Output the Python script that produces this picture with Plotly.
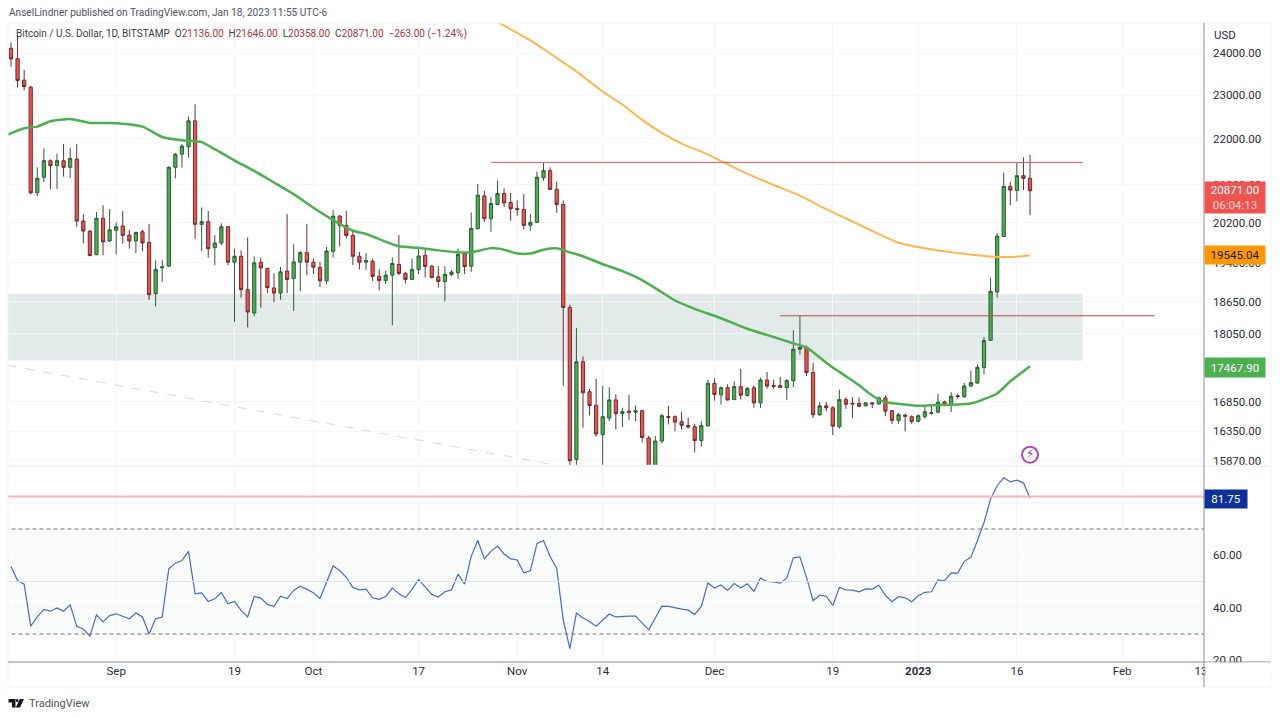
"""
BTC/USD daily (Bitstamp) with two moving averages and RSI pane, TradingView look.
"""
import numpy as np
import pandas as pd
import plotly.graph_objects as go

first_day = pd.Timestamp("2022-08-16")

opens = [24117, 23864, 23350, 23184, 20830, 21159, 21517, 21409, 21517, 21374,
         21553, 20240, 20035, 19562, 20295, 19834, 20054, 20137, 19953, 19834,
         20021, 19804, 18802, 19301, 19334, 21374, 21661, 21822, 22405, 20172,
         20226, 19701, 19795, 20123, 19412, 19529, 18880, 18437, 19412, 19290,
         18912, 18814, 19237, 19095, 19412, 19601, 19412, 19309, 19048, 19627,
         20342, 20152, 19947, 19529, 19412, 19432, 19134, 19056, 19159, 19367,
         19192, 19075, 19270, 19549, 19334, 19127, 19036, 19170, 19204, 19582,
         19334, 20082, 20763, 20287, 20582, 20814, 20623, 20500, 20480, 20152,
         20213, 21150, 21301, 20901, 20582, 18542, 15892, 17548, 17021, 16790,
         16295, 16572, 16880, 16646, 16689, 16672, 16696, 16240, 15760, 16190,
         16600, 16595, 16512, 16450, 16428, 16199, 16440, 17167, 16968, 17091,
         16886, 17109, 16956, 17091, 16830, 17225, 17132, 17126, 17091, 17214,
         17771, 17797, 17355, 16629, 16779, 16746, 16428, 16886, 16823, 16818,
         16779, 16830, 16813, 16915, 16696, 16534, 16622, 16595, 16517, 16600,
         16651, 16672, 16846, 16801, 16950, 16938, 17119, 17172, 17443, 17932,
         18834, 19927, 20965, 20878, 21193, 21136]
highs = [24265, 24446, 23595, 23215, 21374, 21786, 21547, 21676, 21883, 21799,
         21883, 20377, 20050, 20424, 20568, 20486, 20213, 20445, 20060, 20020,
         20060, 20178, 19451, 19451, 21390, 21689, 21883, 22502, 22783, 20521,
         20445, 19953, 20193, 20130, 19681, 19646, 19906, 19529, 19504, 19301,
         19192, 19321, 20383, 19769, 19632, 20178, 19484, 19418, 19714, 20465,
         20362, 20451, 20060, 19613, 19593, 19484, 19270, 19243, 19504, 19953,
         19223, 19484, 19681, 19681, 19354, 19334, 19334, 19256, 19681, 19593,
         20418, 21015, 20870, 20741, 21086, 20922, 20827, 20670, 20799, 20383,
         21280, 21473, 21374, 21064, 20670, 18592, 18160, 17642, 17067, 17242,
         17126, 17097, 16979, 16746, 16967, 16784, 16712, 16278, 16273, 16646,
         16779, 16617, 16679, 16579, 16478, 16522, 17232, 17255, 17114, 17149,
         17202, 17418, 17102, 17126, 17267, 17366, 17232, 17278, 17237, 18116,
         18382, 17840, 17531, 16846, 16846, 16773, 17056, 16926, 16926, 16921,
         16840, 16840, 16938, 16956, 16712, 16662, 16646, 16617, 16634, 16784,
         16784, 16986, 16868, 17014, 16986, 17172, 17390, 17501, 17993, 19114,
         19988, 21258, 21064, 21489, 21590, 21646]
lows = [23674, 23174, 23112, 20793, 20763, 21051, 20907, 20907, 21172, 21144,
        20123, 19783, 19529, 19549, 19549, 19816, 19568, 19783, 19681, 19593,
        19632, 18686, 18561, 19028, 19320, 21137, 21366, 21581, 19878, 19632,
        19504, 19354, 19748, 19354, 18271, 18725, 18167, 18376, 18537, 18814,
        18641, 18686, 18814, 18474, 18853, 19159, 19179, 18931, 18984, 19504,
        19728, 19886, 19354, 19270, 19256, 19048, 18867, 18984, 18210, 19159,
        18997, 19062, 19179, 19115, 19095, 18919, 18654, 19139, 19081, 19179,
        19223, 20070, 20219, 20021, 20568, 20534, 20246, 20348, 20070, 20042,
        20205, 21086, 20885, 20410, 17126, 15600, 15700, 16412, 16617, 16262,
        15780, 16522, 16378, 16422, 16545, 16522, 16167, 15476, 15620, 16154,
        16467, 16350, 16378, 16395, 16005, 16099, 16433, 16868, 16801, 16868,
        16880, 16886, 16938, 16746, 16746, 17074, 17074, 17084, 16880, 17102,
        17677, 17295, 16572, 16605, 16689, 16290, 16395, 16729, 16572, 16756,
        16768, 16740, 16801, 16605, 16472, 16478, 16350, 16478, 16500, 16562,
        16629, 16655, 16768, 16672, 16903, 16915, 17110, 17162, 17325, 17925,
        18725, 19914, 20568, 20650, 20885, 20358]
closes = [23857, 23341, 23198, 20827, 21137, 21517, 21409, 21517, 21374, 21568,
          20240, 20035, 19543, 20295, 19816, 20060, 20123, 19947, 19834, 20008,
          19795, 18783, 19270, 19321, 21374, 21661, 21838, 22405, 20172, 20226,
          19681, 19795, 20123, 19412, 19529, 18880, 18456, 19399, 19301, 18919,
          18814, 19223, 19075, 19418, 19601, 19412, 19315, 19048, 19632, 20342,
          20152, 19947, 19529, 19412, 19445, 19134, 19056, 19159, 19387, 19192,
          19075, 19270, 19535, 19328, 19115, 19036, 19173, 19217, 19568, 19328,
          20090, 20778, 20287, 20602, 20814, 20615, 20492, 20480, 20152, 20213,
          21159, 21301, 20901, 20582, 18542, 15871, 17548, 17003, 16784, 16307,
          16595, 16880, 16646, 16679, 16672, 16696, 16250, 15760, 16190, 16612,
          16584, 16505, 16450, 16422, 16199, 16445, 17167, 16973, 17091, 16880,
          17109, 16961, 17079, 16830, 17225, 17119, 17114, 17097, 17214, 17771,
          17803, 17355, 16629, 16779, 16746, 16438, 16886, 16806, 16813, 16773,
          16830, 16813, 16915, 16689, 16534, 16629, 16605, 16517, 16612, 16679,
          16662, 16840, 16806, 16943, 16938, 17119, 17179, 17448, 17926, 18847,
          19933, 20965, 20885, 21193, 21136, 20871]

rsi_values = [55.7, 50.4, 49.0, 33.0, 36.5, 39.4, 38.7, 39.9, 38.7, 41.1,
              32.9, 31.9, 29.2, 37.3, 34.6, 37.0, 37.7, 36.7, 35.8, 38.0,
              36.5, 30.0, 35.8, 36.5, 54.8, 57.0, 58.0, 61.5, 45.3, 45.7,
              42.4, 43.4, 45.8, 41.5, 42.4, 39.0, 36.5, 44.3, 43.7, 41.3,
              40.5, 44.4, 43.5, 46.6, 48.2, 47.0, 45.7, 43.5, 49.7, 55.9,
              54.2, 51.6, 47.7, 46.8, 47.1, 43.8, 43.2, 44.3, 47.6, 45.3,
              43.9, 47.0, 50.8, 47.8, 45.1, 44.1, 46.1, 46.8, 52.8, 49.0,
              59.6, 65.7, 58.6, 61.5, 63.5, 60.5, 58.6, 58.2, 53.3, 54.1,
              64.4, 65.6, 59.5, 55.1, 35.4, 24.4, 38.0, 36.1, 34.8, 33.0,
              35.2, 37.6, 36.5, 36.7, 36.8, 36.8, 34.2, 31.6, 36.1, 40.6,
              40.5, 39.9, 39.5, 39.1, 37.5, 40.5, 49.4, 47.5, 48.7, 46.6,
              49.2, 47.6, 49.1, 46.2, 51.3, 50.0, 49.9, 49.4, 51.4, 59.0,
              59.4, 51.6, 42.7, 44.8, 44.4, 40.9, 47.7, 46.8, 46.7, 46.1,
              47.2, 47.1, 48.6, 44.7, 42.3, 44.2, 43.8, 42.3, 44.6, 45.9,
              46.1, 50.6, 50.3, 53.3, 53.2, 57.7, 59.2, 65.6, 72.5, 81.4,
              86.5, 89.5, 88.0, 88.6, 87.6, 81.75]

# moving averages, read at a subset of days (offset from first candle)
fast_days = [-1, 2, 4, 6, 9, 12, 16, 20, 23, 26, 29, 31, 34, 37, 40, 43, 46, 49, 52,
             54, 56, 59, 62, 65, 68, 70, 73, 75, 77, 79, 81, 83, 85, 87, 90, 93, 96,
             99, 101, 104, 108, 112, 116, 119, 121, 123, 125, 127, 129, 131, 133,
             135, 138, 141, 144, 146, 148, 150, 152, 154, 155]
fast_ma = [22065, 22239, 22275, 22398, 22450, 22359, 22353, 22275, 22042, 21967,
           21928, 21770, 21521, 21295, 21047, 20799, 20516, 20260, 20041, 19974,
           19872, 19728, 19697, 19646, 19607, 19607, 19691, 19660, 19582, 19582,
           19660, 19687, 19607, 19529, 19373, 19237, 19062, 18828, 18672, 18515,
           18339, 18145, 17993, 17877, 17803, 17624, 17443, 17290, 17132, 16956,
           16840, 16813, 16779, 16793, 16801, 16818, 16893, 16990, 17202, 17378,
           17467.9]
slow_days = [72, 74, 79, 83, 86, 90, 93, 96, 99, 102, 105, 108, 112, 116, 120, 124,
             128, 132, 135, 139, 143, 147, 150, 152, 155]
slow_ma = [24960, 24770, 24310, 23881, 23560, 23079, 22779, 22427, 22132, 21894,
           21715, 21510, 21230, 20993, 20767, 20486, 20230, 19974, 19800, 19687,
           19607, 19549, 19516, 19516, 19545.04]

price_ticks = [24000, 23000, 22000, 21000, 20200, 19400, 18650, 18050, 16850, 16350, 15870]
rsi_ticks = [80, 60, 40, 20]
rsi_tick_labels = ["", "60.00", "40.00", "20.00"]
date_ticks = ["2022-09-01", "2022-09-19", "2022-10-01", "2022-10-17", "2022-11-01",
              "2022-11-14", "2022-12-01", "2022-12-19", "2023-01-01", "2023-01-16",
              "2023-02-01", "2023-02-13"]
date_labels = ["Sep", "19", "Oct", "17", "Nov", "14", "Dec", "19", "<b>2023</b>", "16", "Feb", "13"]

zone_low, zone_high = 17571, 18802
resistance = 21480
local_high = 18385
rsi_current_line = 82.4

GREEN, RED = "#4caf50", "#ef5350"
TEXT = "#2a2e39"
FONT = "Roboto"

dates = pd.date_range(first_day, periods=len(closes))
day = lambda d: first_day + pd.Timedelta(days=float(d))

# paper fractions from window pixels; KX/KY correct the shrink seen in the rendered picture
W, H = 1280, 717
KX, KY = 1.0015, 1.0086
fx = lambda px: px * KX / W
fy = lambda py: 1 - py * KY / H

fig = go.Figure()
fig.add_trace(go.Candlestick(
    x=dates, open=opens, high=highs, low=lows, close=closes,
    increasing=dict(fillcolor=GREEN, line=dict(color="#2c5c36", width=1)),
    decreasing=dict(fillcolor=RED, line=dict(color="#6e2c2e", width=1)),
    whiskerwidth=0, xaxis="x", yaxis="y"))
fig.add_trace(go.Scatter(x=[day(d) for d in fast_days], y=fast_ma, mode="lines",
                         line=dict(color="#4caf50", width=2.5, shape="spline", smoothing=0.5),
                         xaxis="x", yaxis="y"))
fig.add_trace(go.Scatter(x=[day(d) for d in slow_days], y=slow_ma, mode="lines",
                         line=dict(color="#ffb74d", width=2, shape="spline", smoothing=0.5),
                         xaxis="x", yaxis="y"))
fig.add_trace(go.Scatter(x=dates, y=rsi_values, mode="lines",
                         line=dict(color="#4a6bc5", width=1.2), xaxis="x2", yaxis="y2"))
# news flash marker above the last bars
fig.add_trace(go.Scatter(x=[dates[-1]], y=[15968], mode="markers+text", text=["⚡"],
                         textposition="middle center",
                         textfont=dict(size=13, color="#ab47bc", family="DejaVu Sans"),
                         marker=dict(size=16, color="white", line=dict(color="#ab47bc", width=2)),
                         xaxis="x", yaxis="y"))

shapes = [
    # supply/demand zone and the drawn levels
    dict(type="rect", xref="x", yref="y", x0=day(-1), x1=day(163), y0=zone_low, y1=zone_high,
         fillcolor="#e3eaea", line_width=0, layer="below"),
    dict(type="line", xref="x", yref="y", x0=day(73), x1=day(163), y0=resistance, y1=resistance,
         line=dict(color="#f0535f", width=1)),
    dict(type="line", xref="x", yref="y", x0=day(117), x1=day(174), y0=local_high, y1=local_high,
         line=dict(color="#c9404c", width=1)),
    dict(type="line", xref="x", yref="y", x0=day(-0.5), x1=day(82.6), y0=17483, y1=15806,
         line=dict(color="#d6d8db", width=1, dash="dash")),
    # RSI band and levels
    dict(type="rect", xref="x2", yref="y2", x0=day(-1), x1=day(182), y0=30, y1=70,
         fillcolor="#fafbfb", line_width=0, layer="below"),
    dict(type="line", xref="x2", yref="y2", x0=day(-1), x1=day(182), y0=70, y1=70,
         line=dict(color="#6f727a", width=1, dash="4px,3px")),
    dict(type="line", xref="x2", yref="y2", x0=day(-1), x1=day(182), y0=30, y1=30,
         line=dict(color="#6f727a", width=1, dash="4px,3px")),
    dict(type="line", xref="x2", yref="y2", x0=day(-1), x1=day(182), y0=50, y1=50,
         line=dict(color="#dfe3e8", width=1)),
    dict(type="line", xref="x2", yref="y2", x0=day(-1), x1=day(182), y0=rsi_current_line,
         y1=rsi_current_line, line=dict(color="#ffb3b8", width=2)),
    # frame
    dict(type="rect", xref="paper", yref="paper", x0=fx(8), x1=fx(1272), y0=fy(686), y1=fy(23),
         line=dict(color="#f0f3fa", width=1)),
    dict(type="line", xref="paper", yref="paper", x0=fx(8), x1=fx(1272), y0=fy(465), y1=fy(465),
         line=dict(color="#f0f3fa", width=2)),
    dict(type="line", xref="paper", yref="paper", x0=fx(8), x1=fx(1272), y0=fy(661), y1=fy(661),
         line=dict(color="#8a8d94", width=1)),
    dict(type="line", xref="paper", yref="paper", x0=fx(1205), x1=fx(1205), y0=fy(686), y1=fy(23),
         line=dict(color="#8a8d94", width=1)),
    # TradingView mark
    dict(type="path", xref="paper", yref="paper", fillcolor="#131722", line_width=0,
         path=f"M{fx(8.5)},{fy(698)} L{fx(15.5)},{fy(698)} L{fx(15.5)},{fy(706.5)} L{fx(12)},{fy(706.5)} "
              f"L{fx(12)},{fy(701.5)} L{fx(8.5)},{fy(701.5)} Z"),
    dict(type="circle", xref="paper", yref="paper", fillcolor="#131722", line_width=0,
         x0=fx(15.8), x1=fx(18.6), y0=fy(701), y1=fy(698)),
    dict(type="path", xref="paper", yref="paper", fillcolor="#131722", line_width=0,
         path=f"M{fx(19.8)},{fy(698)} L{fx(24)},{fy(698)} L{fx(20)},{fy(706.5)} L{fx(15.8)},{fy(706.5)} Z"),
]


def label(px, py, text, size=11.5, color=TEXT, align="left", **kw):
    return dict(xref="paper", yref="paper", x=fx(px), y=fy(py), text=text, showarrow=False,
                xanchor="left", yanchor="middle", align=align,
                font=dict(size=size, color=color, family=FONT), borderpad=0, **kw)


def price_box(py, height, text, bg, color="white", width=60):
    return label(1205.5, py, text, color=color, bgcolor=bg, width=width, height=height, align="center")


red_val = lambda s: f'<span style="color:#a5343c">{s}</span>'
header = ("Bitcoin / U.S. Dollar, 1D, BITSTAMP  O" + red_val("21136.00") + "  H" + red_val("21646.00")
          + "  L" + red_val("20358.00") + "  C" + red_val("20871.00") + "  " + red_val("−263.00 (−1.24%)"))

annotations = [
    label(8, 12, "AnselLindner published on TradingView.com, Jan 18, 2023 11:55 UTC-6", size=10.1, color="#50535e"),
    label(15, 34, header, size=10, color="#3a3e4a"),
    label(1214, 35, "USD"),
    price_box(197.5, 31, f"{closes[-1]:.2f}<br>"
                         '<span style="color:#ffd5d5">06:04:13</span>', RED),
    price_box(255, 18, f"{slow_ma[-1]:.2f}", "#ff9800", color="#131722"),
    price_box(366.5, 19, f"{fast_ma[-1]:.2f}", "#4caf50"),
    price_box(498, 18, f"{rsi_values[-1]:.2f}", "#0c3299", width=42),
    # cut the labels that run under the pane border and the scale column
    label(1206, 666, " ", bgcolor="white", width=66, height=9),
    label(1206, 675, " ", bgcolor="white", width=20, height=20),
    label(28, 702, "TradingView", size=11, color="#50535e"),
]

grid = "#f5f6f8"
xaxis_common = dict(type="date", range=["2022-08-15 13:03", "2023-02-13 11:00"],
                    tickvals=date_ticks, showgrid=True, gridcolor=grid, gridwidth=1,
                    zeroline=False, showline=False, domain=[fx(8), fx(1205)],
                    rangeslider=dict(visible=False))
fig.update_layout(
    width=W, height=H, margin=dict(l=0, r=0, t=0, b=0),
    paper_bgcolor="white", plot_bgcolor="white", showlegend=False,
    font=dict(family=FONT, size=11.5, color=TEXT),
    shapes=shapes, annotations=annotations, boxgap=0.3,
    xaxis=dict(**xaxis_common, anchor="y", showticklabels=False),
    xaxis2=dict(**xaxis_common, anchor="y2", matches="x", ticktext=date_labels, tickangle=0),
    yaxis=dict(type="log", domain=[fy(465), fy(23)], anchor="x", side="right",
               range=[np.log10(15790), np.log10(24743)], tickvals=price_ticks,
               ticktext=[f"{v:.2f}" for v in price_ticks], showgrid=True, gridcolor=grid,
               zeroline=False, showline=False, ticklabelstandoff=8),
    yaxis2=dict(domain=[fy(661), fy(465)], anchor="x2", side="right", range=[19.33, 94.11],
                tickvals=rsi_ticks, ticktext=rsi_tick_labels, showgrid=True,
                gridcolor=grid, zeroline=False, showline=False, ticklabelstandoff=8),
)
fig.write_html("out.html", config={"displayModeBar": False},
               post_script="document.body.style.margin='0';document.documentElement.style.overflow='hidden';")
